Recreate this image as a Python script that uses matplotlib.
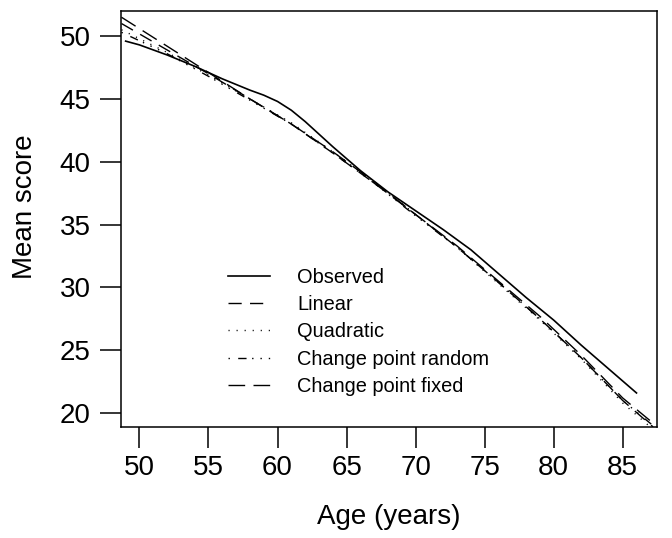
import numpy as np
import matplotlib.pyplot as plt

plt.rcParams['font.family'] = ['Liberation Sans', 'DejaVu Sans']

# observed mean score by age
ages_obs = [49, 50, 52, 54, 56, 58, 59, 60, 61, 62, 63, 64, 66, 68, 70, 72, 74, 76, 78, 80, 82, 84, 86]
observed = [49.6, 49.3, 48.5, 47.6, 46.6, 45.7, 45.3, 44.8, 44.1, 43.2, 42.2, 41.2, 39.3,
            37.6, 36.1, 34.6, 33.0, 31.1, 29.2, 27.4, 25.4, 23.5, 21.6]

# fitted model curves
ages_fit = [48.7, 52, 55, 58, 61, 64, 67, 70, 73, 76, 79, 82, 85, 87.2]
linear = [51.0, 48.9, 47.0, 45.0, 43.0, 40.7, 38.3, 35.8, 33.2, 30.4, 27.5, 24.4, 21.0, 18.9]
quadratic = [50.5, 48.7, 46.9, 45.0, 43.1, 40.8, 38.4, 35.8, 33.2, 30.3, 27.4, 24.3, 20.8, 18.7]
cp_random = [50.3, 48.6, 46.8, 44.9, 43.0, 40.7, 38.3, 35.7, 33.2, 30.4, 27.5, 24.4, 21.0, 19.0]
cp_fixed = [51.5, 49.2, 47.1, 45.0, 43.0, 40.8, 38.4, 35.8, 33.3, 30.5, 27.7, 24.6, 21.2, 19.2]

xticks = [50, 55, 60, 65, 70, 75, 80, 85]
yticks = [20, 25, 30, 35, 40, 45, 50]

fig = plt.figure(figsize=(6.72, 5.38), dpi=100)
ax = fig.add_axes([0.180, 0.2063, 0.798, 0.7733])

lw = 1.0
ax.plot(ages_obs, observed, color='black', lw=1.2, ls='-', label='Observed')
ax.plot(ages_fit, linear, color='black', lw=lw, ls=(0, (9.5, 6)), label='Linear')
ax.plot(ages_fit, quadratic, color='black', lw=lw, ls=(0, (0.8, 5)), label='Quadratic')
ax.plot(ages_fit, cp_random, color='black', lw=lw, ls=(0, (1, 6, 6, 4, 1, 5, 1, 5)),
        label='Change point random')
ax.plot(ages_fit, cp_fixed, color='black', lw=lw, ls=(0, (12, 6)), label='Change point fixed')

ax.set_xlim(48.66, 87.5)
ax.set_ylim(18.89, 52.0)
ax.set_xticks(xticks)
ax.set_yticks(yticks)
ax.tick_params(axis='both', direction='out', length=15, width=1.1, labelsize=20)
ax.tick_params(axis='y', pad=7)
ax.tick_params(axis='x', pad=5)
for s in ax.spines.values():
    s.set_linewidth(1.1)

ax.set_xlabel('Age (years)', fontsize=20, va='center')
ax.xaxis.set_label_coords(0.5, -0.216)
ax.set_ylabel('Mean score', fontsize=20, va='center')
ax.yaxis.set_label_coords(-0.179, 0.53)

ax.legend(loc='upper left', bbox_to_anchor=(0.2, 0.383), frameon=False, fontsize=14.4,
          handlelength=2.1, handletextpad=1.35, labelspacing=0.42, borderpad=0, borderaxespad=0)

fig.savefig('out.png', dpi=100)
